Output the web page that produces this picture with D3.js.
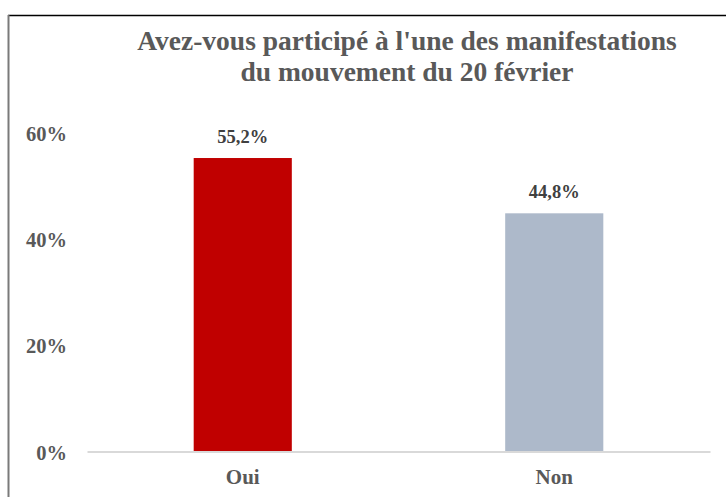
<!DOCTYPE html>
<html>
<head>
<meta charset="utf-8">
<script src="https://cdn.jsdelivr.net/npm/d3@7"></script>
<style>
  html, body { margin: 0; padding: 0; background: #fff; }
  svg { display: block; }
</style>
</head>
<body>
<svg id="chart" width="726" height="497"></svg>
<script>
// Survey answers and shares
const categories = ["Oui", "Non"];
const values = [0.552, 0.448];
const valueLabels = ["55,2%", "44,8%"];
const barColors = ["#c00000", "#adb9ca"];
const tickValues = [0, 0.2, 0.4, 0.6];
const titleLines = ["Avez-vous participé à l'une des manifestations", "du mouvement du 20 février"];

const W = 726, H = 497;
const font = "'Liberation Serif', 'Times New Roman', serif";
const svg = d3.select("#chart");

// Outer frame: dark top edge and grey left edge
svg.append("line").attr("x1", 8).attr("x2", W).attr("y1", 15.5).attr("y2", 15.5)
  .attr("stroke", "#000").attr("stroke-width", 1.5);
svg.append("line").attr("x1", 8.5).attr("x2", 8.5).attr("y1", 15).attr("y2", H)
  .attr("stroke", "#7a7a7a").attr("stroke-width", 2);

// Title
svg.append("text")
  .attr("x", 407).attr("y", 50)
  .attr("text-anchor", "middle")
  .attr("font-family", font).attr("font-weight", "bold")
  .attr("font-size", 27.5).attr("fill", "#595959")
  .selectAll("tspan").data(titleLines).join("tspan")
  .attr("x", 407).attr("dy", (d, i) => i === 0 ? 0 : 31)
  .text(d => d);

const x = d3.scaleBand().domain(categories).range([87, 710])
  .paddingInner(0.685).paddingOuter(0.3425);
const y = d3.scaleLinear().domain([0, 0.6]).range([451.5, 132.5]);

// Y axis labels (no line, no ticks)
const yAxis = svg.append("g").attr("transform", "translate(67,0)")
  .call(d3.axisLeft(y).tickValues(tickValues).tickSize(0).tickPadding(0)
    .tickFormat(d => d3.format(".0%")(d)));
yAxis.select(".domain").remove();
yAxis.selectAll("text")
  .attr("font-family", font).attr("font-weight", "bold")
  .attr("font-size", 20.5).attr("fill", "#595959").attr("dy", 7.5);

// Bars
svg.append("g").selectAll("rect").data(categories).join("rect")
  .attr("x", d => x(d))
  .attr("width", x.bandwidth())
  .attr("y", (d, i) => y(values[i]))
  .attr("height", (d, i) => y(0) - y(values[i]))
  .attr("fill", (d, i) => barColors[i]);

// Value labels
svg.append("g").selectAll("text").data(categories).join("text")
  .attr("x", d => x(d) + x.bandwidth() / 2)
  .attr("y", (d, i) => y(values[i]) - 15)
  .attr("text-anchor", "middle")
  .attr("font-family", font).attr("font-weight", "bold")
  .attr("font-size", 18.5).attr("fill", "#404040")
  .text((d, i) => valueLabels[i]);

// X axis baseline and category labels
const xAxis = svg.append("g").attr("transform", `translate(0,${y(0)})`)
  .call(d3.axisBottom(x).tickSize(0).tickPadding(0).tickSizeOuter(0));
xAxis.select(".domain").attr("stroke", "#d9d9d9").attr("stroke-width", 2);
xAxis.selectAll("text")
  .attr("font-family", font).attr("font-weight", "bold")
  .attr("font-size", 21).attr("fill", "#595959")
  .attr("y", 0).attr("dy", 32);
</script>
</body>
</html>
